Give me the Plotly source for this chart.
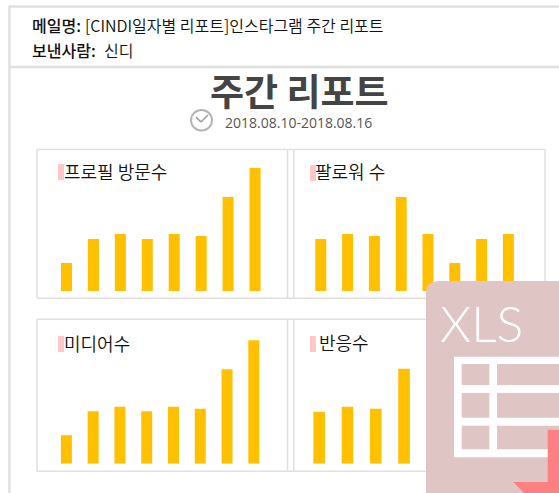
import plotly.graph_objects as go

W, H = 559, 493

# Data (bar heights)
bar_index = [0, 1, 2, 3, 4, 5, 6, 7]
profile_visits = [28, 52, 57, 52, 57, 55, 94, 123]
followers = [52, 57, 55, 94, 57, 28, 52, 57]
media = [28.5, 52.5, 57, 52.5, 57, 55, 94.5, 123.5]
reactions = [52, 57, 55, 95]

panel_titles = ["프로필 방문수", "팔로워 수", "미디어수", "반응수"]
mail_label = "메일명:"
mail_subject = "[CINDI일자별 리포트]인스타그램 주간 리포트"
sender_label = "보낸사람:"
sender_name = "신디"
report_title = "주간 리포트"
report_dates = "2018.08.10-2018.08.16"
badge_text = "XLS"

BAR = "#ffc000"
LINE = "#e0e0e0"
BADGE = "#e0c5c5"
ARROW = "#ff8080"
MARK = "#ffc8c8"
KR = "Noto Sans CJK KR"


def px(x):
    return x / W


def py(y):
    return 1 - y / H


fig = go.Figure()

# (series, left, right, baseline)
panels = [
    (profile_visits, 53.0, 268.5, 291.0),
    (followers, 307.4, 521.8, 291.0),
    (media, 53.0, 267.2, 463.7),
    (reactions, 305.0, 531.4, 463.7),
]
for i, (vals, left, right, base) in enumerate(panels, start=1):
    fig.add_trace(go.Bar(
        x=bar_index[:len(vals)], y=vals, xaxis=f"x{i}", yaxis=f"y{i}",
        marker=dict(color=BAR, line=dict(width=0)), width=0.41,
        showlegend=False, hoverinfo="y",
    ))
    fig.layout[f"xaxis{i}"] = dict(
        domain=[px(left), px(right)], range=[-0.5, 7.5], visible=False,
        anchor=f"y{i}", fixedrange=True)
    fig.layout[f"yaxis{i}"] = dict(
        domain=[py(base), py(base - 130)], range=[0, 130], visible=False,
        anchor=f"x{i}", fixedrange=True)

shapes = []


def line(x0, y0, x1, y1, color=LINE, width=1.5):
    shapes.append(dict(type="line", xref="paper", yref="paper",
                       x0=px(x0), y0=py(y0), x1=px(x1), y1=py(y1),
                       line=dict(color=color, width=width)))


def rect(x0, y0, x1, y1, color):
    shapes.append(dict(type="rect", xref="paper", yref="paper",
                       x0=px(x0), y0=py(y0), x1=px(x1), y1=py(y1),
                       fillcolor=color, line=dict(width=0)))


def poly(points, color):
    d = "M" + " L".join(f"{px(a):.5f},{py(b):.5f}" for a, b in points) + " Z"
    shapes.append(dict(type="path", xref="paper", yref="paper", path=d,
                       fillcolor=color, line=dict(width=0)))


# Page frame
line(9.5, 6, 9.5, 493, width=2.5)
line(9, 6.5, 559, 6.5, width=2.5)
line(9, 67, 559, 67, width=2.5)

# Panel frames
for top, bottom in [(149.5, 298.3), (319.3, 471.3)]:
    line(37, top, 545, top)
    line(37, bottom, 545, bottom)
    for x in (37, 287.5, 293.8, 545):
        line(x, top, x, bottom)

# Title markers
rect(58, 164, 64, 180, MARK)
rect(310, 165, 316, 181, MARK)
rect(58, 336, 64, 352, MARK)
rect(310, 336, 316, 352, MARK)

# Clock icon
shapes.append(dict(type="circle", xref="paper", yref="paper",
                   x0=px(191), y0=py(130.5), x1=px(212), y1=py(110),
                   line=dict(color="#b5b5b5", width=2)))
line(196, 117, 201, 122, color="#999999", width=1.5)
line(201, 122, 208, 115, color="#999999", width=1.5)

# Badge body with rounded corner
poly([(426, 493), (426, 293), (427, 286), (430, 283.5), (433, 282), (438, 281),
      (559, 281), (559, 493)], BADGE)

# Spreadsheet glyph
rect(454, 356.7, 559, 457.3, "#ffffff")
for y0, y1 in [(364, 385), (393, 417.7), (425.7, 449.3)]:
    rect(461.7, y0, 489.3, y1, BADGE)
    rect(497, y0, 559, y1, BADGE)

# Download arrow
poly([(547.7, 429.7), (559, 429.7), (559, 493), (524, 493), (513.3, 482), (547.7, 482)], ARROW)

fig.update_layout(shapes=shapes)


def text(x, y, s, size, color="#222222", anchor="left", family=KR, weight=None):
    font = dict(size=size, color=color, family=family)
    if weight:
        font["weight"] = weight
    fig.add_annotation(xref="paper", yref="paper", x=px(x), y=py(y), text=s,
                       showarrow=False, xanchor=anchor, yanchor="middle",
                       font=font, borderpad=0, borderwidth=0)


text(32, 25, mail_label, 16, "#111111", weight=500)
text(85, 25, mail_subject, 16, "#111111", weight=350)
text(32, 50, sender_label, 16, "#111111", weight=500)
text(104, 50, sender_name, 16, "#111111", weight=350)
text(299, 90, report_title, 37, "#444444", anchor="center", weight=700)
text(225, 123, report_dates, 14, "#555555", family="Open Sans")
text(64, 171, panel_titles[0], 18, "#111111", weight=350)
text(315, 171, panel_titles[1], 18, "#111111", weight=350)
text(64, 343, panel_titles[2], 18, "#111111", weight=350)
text(319, 342, panel_titles[3], 18, "#111111", weight=350)
text(440, 323, badge_text, 50, "#ffffff", family="Lato", weight=300)

fig.update_layout(
    width=W, height=H, autosize=False,
    margin=dict(l=0, r=0, t=0, b=0, pad=0),
    paper_bgcolor="#ffffff", plot_bgcolor="rgba(0,0,0,0)",
    bargap=0.6, showlegend=False,
)

fig.write_html(
    "out.html",
    config={"displayModeBar": False},
    post_script="document.body.style.margin='0';document.body.style.overflow='hidden';",
)
